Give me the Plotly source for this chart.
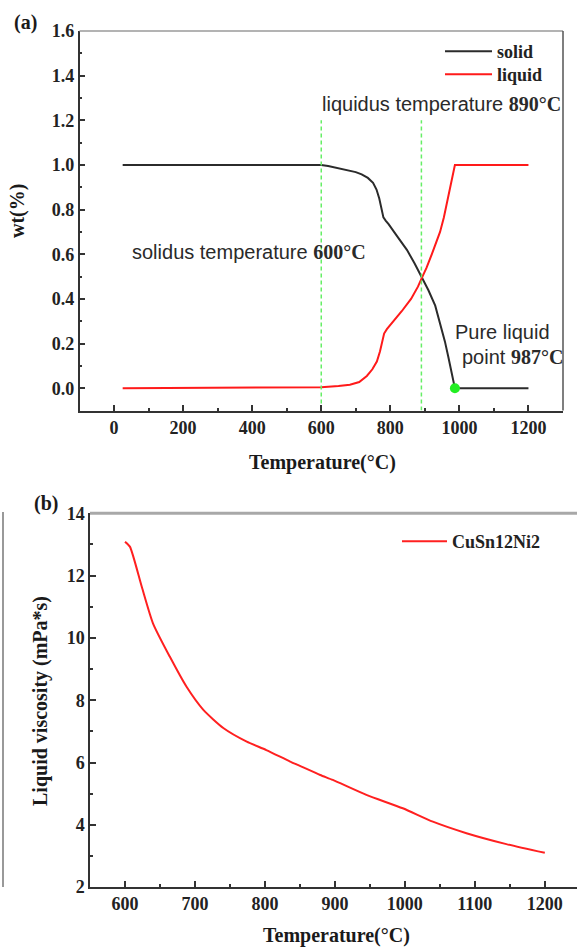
import plotly.graph_objects as go

# ---------------- data ----------------
# (a) phase fractions vs temperature
solid_T = [25, 600, 620, 650, 680, 700, 717, 735, 750, 760, 768, 775, 780, 787, 795, 820, 848,
           870, 890, 910, 930, 945, 958, 968, 978, 987, 1200]
solid_wt = [1.0, 1.0, 0.995, 0.985, 0.976, 0.968, 0.958, 0.942, 0.92, 0.89, 0.85, 0.80, 0.765,
            0.75, 0.735, 0.68, 0.62, 0.56, 0.50, 0.44, 0.37, 0.29, 0.21, 0.14, 0.07, 0.0, 0.0]

liquid_T = [25, 600, 650, 683, 710, 732, 748, 761, 770, 777, 782, 790, 810, 833, 860, 880, 890,
            905, 920, 935, 944, 955, 965, 975, 987, 1200]
liquid_wt = [0.0, 0.005, 0.01, 0.016, 0.028, 0.055, 0.085, 0.12, 0.165, 0.21, 0.245, 0.265, 0.30,
             0.345, 0.40, 0.455, 0.49, 0.54, 0.60, 0.66, 0.70, 0.765, 0.84, 0.91, 1.0, 1.0]

solidus_T = 600
liquidus_T = 890
pure_liquid_T = 987
marker_lines_y = [-0.1, 1.2]

# (b) liquid viscosity
visc_T = [600, 607, 624, 640, 664, 688, 712, 741, 774, 802, 836, 850, 879, 897, 945, 997, 1040, 1088, 1145, 1200]
visc = [13.09, 12.93, 11.64, 10.47, 9.40, 8.43, 7.69, 7.10, 6.67, 6.40, 6.03, 5.89, 5.60, 5.44, 4.96, 4.53, 4.10, 3.73, 3.38, 3.10]

xticks_a = [0, 200, 400, 600, 800, 1000, 1200]
yticks_a = [0.0, 0.2, 0.4, 0.6, 0.8, 1.0, 1.2, 1.4, 1.6]
xticks_b = [600, 700, 800, 900, 1000, 1100, 1200]
yticks_b = [2, 4, 6, 8, 10, 12, 14]

# ---------------- figure ----------------
W, H = 577, 950
SERIF = "Liberation Serif"
SANS = "Liberation Sans"
AXC = "#333333"

def px(x):
    return x / W

def py(y):
    return 1 - y / H

fig = go.Figure()

fig.add_trace(go.Scatter(x=solid_T, y=solid_wt, mode="lines", name="solid",
                         line=dict(color="#2b2b2b", width=2),
                         legend="legend", xaxis="x", yaxis="y"))
fig.add_trace(go.Scatter(x=liquid_T, y=liquid_wt, mode="lines", name="liquid",
                         line=dict(color="#ff1a1a", width=2),
                         legend="legend3", xaxis="x", yaxis="y"))
for t in (solidus_T, liquidus_T):
    fig.add_trace(go.Scatter(x=[t, t], y=marker_lines_y, mode="lines", showlegend=False,
                             line=dict(color="#66ee66", width=1.5, dash="4px,3px"),
                             xaxis="x", yaxis="y", hoverinfo="skip"))
fig.add_trace(go.Scatter(x=[pure_liquid_T], y=[0.0], mode="markers", showlegend=False,
                         marker=dict(color="#22ee22", size=10), xaxis="x", yaxis="y"))

fig.add_trace(go.Scatter(x=visc_T, y=visc, mode="lines", name="CuSn12Ni2",
                         line=dict(color="#ff2020", width=2, shape="spline", smoothing=0.6),
                         legend="legend2", xaxis="x2", yaxis="y2"))

tickfont = dict(family=SERIF, size=18, color="#222222", weight="bold")

common_axis = dict(showgrid=False, zeroline=False, showline=True, linecolor=AXC,
                   linewidth=1.5, ticks="inside", ticklen=6, tickwidth=1.5,
                   tickcolor=AXC, tickfont=tickfont, mirror=False)

legfont = dict(family=SERIF, size=18, color="#222", weight="bold")

fig.update_layout(
    width=W, height=H,
    margin=dict(l=0, r=0, t=0, b=0, autoexpand=False),
    paper_bgcolor="white", plot_bgcolor="white",
    xaxis=dict(domain=[px(79.5), px(563)], range=[-100, 1300], tickvals=xticks_a,
               minor=dict(dtick=100, ticks="inside", ticklen=3, tickcolor=AXC, tickwidth=1.5),
               anchor="y", **common_axis),
    yaxis=dict(domain=[py(410.6), py(31)], range=[-0.1, 1.6], tickvals=yticks_a,
               tickformat=".1f",
               minor=dict(dtick=0.1, ticks="inside", ticklen=3, tickcolor=AXC, tickwidth=1.5),
               anchor="x", **common_axis),
    xaxis2=dict(domain=[px(90), 1.0], range=[550, 1246], tickvals=xticks_b,
                minor=dict(dtick=50, ticks="inside", ticklen=3, tickcolor=AXC, tickwidth=1.5),
                anchor="y2", **common_axis),
    yaxis2=dict(domain=[py(887.1), py(513.3)], range=[2, 14], tickvals=yticks_b,
                minor=dict(dtick=1, ticks="inside", ticklen=3, tickcolor=AXC, tickwidth=1.5),
                anchor="x2", **common_axis),
    legend=dict(x=px(440), y=py(33), xanchor="left", yanchor="top",
                bgcolor="rgba(0,0,0,0)", font=legfont, itemwidth=47),
    legend3=dict(x=px(440), y=py(56), xanchor="left", yanchor="top",
                 bgcolor="rgba(0,0,0,0)", font=legfont, itemwidth=47),
    legend2=dict(x=px(397), y=py(523), xanchor="left", yanchor="top",
                 bgcolor="rgba(0,0,0,0)", font=legfont, itemwidth=45),
    showlegend=True,
)

# frame lines (top/right of panel a, top of panel b) and left border artefact
fig.add_shape(type="line", xref="x domain", yref="y domain", x0=0, x1=1, y0=1, y1=1,
              line=dict(color="#9a9a9a", width=1.5))
fig.add_shape(type="line", xref="x domain", yref="y domain", x0=1, x1=1, y0=0, y1=1,
              line=dict(color="#555555", width=1.5))
fig.add_shape(type="line", xref="x2 domain", yref="y2 domain", x0=0, x1=1, y0=1, y1=1,
              line=dict(color="#a8a8a8", width=3))
fig.add_shape(type="line", xref="paper", yref="paper", x0=px(3), x1=px(3), y0=py(887), y1=py(512),
              line=dict(color="#777777", width=1.5))

def ann(text, x, y, font, xanchor="left", angle=0):
    fig.add_annotation(text=text, x=px(x), y=py(y), xref="paper", yref="paper",
                       xanchor=xanchor, yanchor="middle", showarrow=False,
                       font=font, textangle=angle)

serif_b20 = dict(family=SERIF, size=20, color="#1a1a1a", weight="bold")
sans20 = dict(family=SANS, size=20, color="#2a2a2a")
deg = '<span style="font-family:Liberation Serif;font-weight:bold">%s</span>'

ann("(a)", 12, 22, serif_b20)
ann("(b)", 32, 503, serif_b20)
ann("liquidus temperature " + deg % "890°C", 320, 104, sans20)
ann("solidus temperature " + deg % "600°C", 130, 252, sans20)
ann("Pure liquid", 453, 332, sans20)
ann("point " + deg % "987°C", 460, 357, sans20)
ann("Temperature(°C)", 322, 462, serif_b20, xanchor="center")
ann("Temperature(°C)", 336, 935, serif_b20, xanchor="center")
ann("wt(%)", 17, 211, serif_b20, xanchor="center", angle=-90)
ann("Liquid viscosity (mPa*s)", 40, 701, serif_b20, xanchor="center", angle=-90)

fig.write_html("out.html")
